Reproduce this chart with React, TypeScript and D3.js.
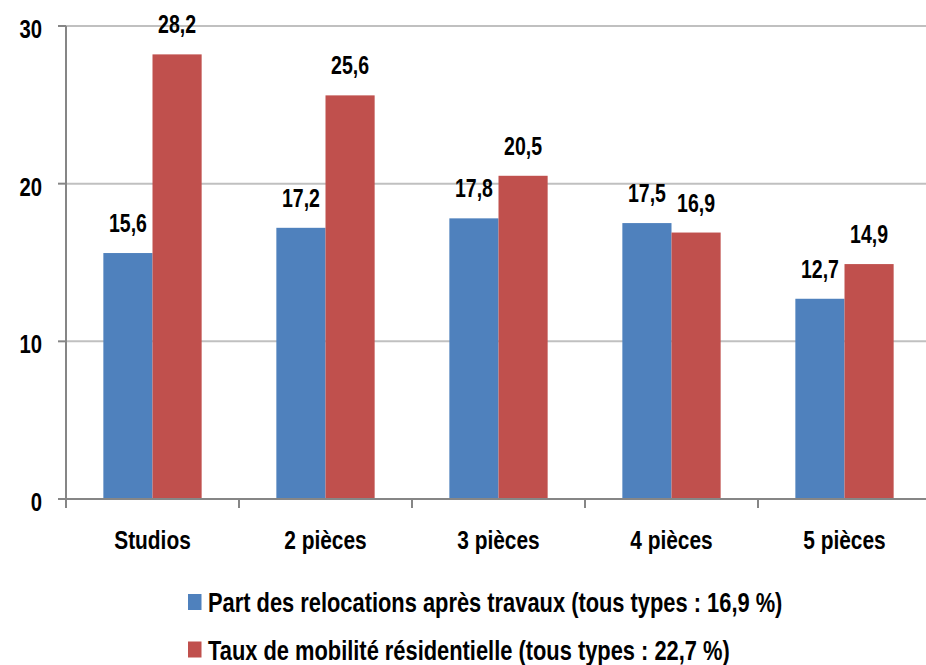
import React from "react";
import * as d3 from "d3";

const categories = ["Studios", "2 pièces", "3 pièces", "4 pièces", "5 pièces"];
const seriesNames = [
  "Part des relocations après travaux (tous types : 16,9 %)",
  "Taux de mobilité résidentielle (tous types : 22,7 %)",
];
const relocations = [15.6, 17.2, 17.8, 17.5, 12.7];
const mobilite = [28.2, 25.6, 20.5, 16.9, 14.9];
const yTicks = [0, 10, 20, 30];
const colors = ["#4F81BD", "#C0504D"];

const W = 926;
const H = 665;
const FONT = "'Liberation Sans', Arial, sans-serif";

function NText(props: {
  x: number;
  y: number;
  size: number;
  sx: number;
  anchor?: string;
  children: React.ReactNode;
}) {
  return (
    <text
      transform={`translate(${props.x},${props.y}) scale(${props.sx},1)`}
      textAnchor={props.anchor || "start"}
      fontFamily={FONT}
      fontWeight="bold"
      fontSize={props.size}
      fill="#000"
    >
      {props.children}
    </text>
  );
}

export default function App() {
  const x0 = 66;
  const x1 = 66 + 173 * 5;
  const y = d3.scaleLinear().domain([0, 30]).range([499, 26]);
  const xBand = d3.scaleBand<string>().domain(categories).range([x0, x1]).paddingInner(0).paddingOuter(0);
  const step = xBand.bandwidth();
  const barW = step / (2 + 1.52);
  const inner = d3.scaleBand<number>().domain([0, 1]).range([0, barW * 2]);
  const series = [relocations, mobilite];
  const barX = (si: number, i: number) =>
    (xBand(categories[i]) as number) + (step - 2 * barW) / 2 + (inner(si) as number);

  return (
    <div style={{ position: "absolute", left: 0, top: 0 }}>
      <svg width={W} height={H} style={{ display: "block", background: "#fff" }}>
        {yTicks.filter((t) => t > 0).map((t) => (
          <line key={"g" + t} x1={x0} x2={W} y1={y(t)} y2={y(t)} stroke="#C0C0C0" strokeWidth={2} />
        ))}
        {series.map((vals, si) =>
          vals.map((v, i) => (
            <rect key={`b${si}-${i}`} x={barX(si, i)} y={y(v)} width={barW} height={y(0) - y(v)} fill={colors[si]} />
          ))
        )}
        {series.map((vals, si) =>
          vals.map((v, i) => (
            <NText key={`l${si}-${i}`} x={barX(si, i) + barW / 2} y={y(v) - 21} size={26} sx={0.75} anchor="middle">
              {v.toFixed(1).replace(".", ",")}
            </NText>
          ))
        )}
        <line x1={x0} x2={x0} y1={y(30)} y2={y(0) + 9} stroke="#868686" strokeWidth={2} />
        {yTicks.map((t) => (
          <g key={"yt" + t}>
            <line x1={x0 - 8} x2={x0} y1={y(t)} y2={y(t)} stroke="#868686" strokeWidth={2} />
            <NText x={42} y={y(t) + 12} size={26} sx={0.78} anchor="end">
              {t}
            </NText>
          </g>
        ))}
        <line x1={x0} x2={W} y1={y(0)} y2={y(0)} stroke="#868686" strokeWidth={2} />
        {categories.map((c, i) => (
          <line
            key={"xt" + i}
            x1={(xBand(c) as number) + step}
            x2={(xBand(c) as number) + step}
            y1={y(0)}
            y2={y(0) + 9}
            stroke="#868686"
            strokeWidth={2}
          />
        ))}
        {categories.map((c) => (
          <NText key={"xl" + c} x={(xBand(c) as number) + step / 2} y={549} size={25.5} sx={0.82} anchor="middle">
            {c}
          </NText>
        ))}
        {seriesNames.map((n, si) => (
          <g key={"lg" + si}>
            <rect x={188} y={594 + si * 47.5} width={13.5} height={16} fill={colors[si]} />
            <NText x={208} y={612 + si * 48} size={27.5} sx={0.795}>
              {n}
            </NText>
          </g>
        ))}
      </svg>
    </div>
  );
}
